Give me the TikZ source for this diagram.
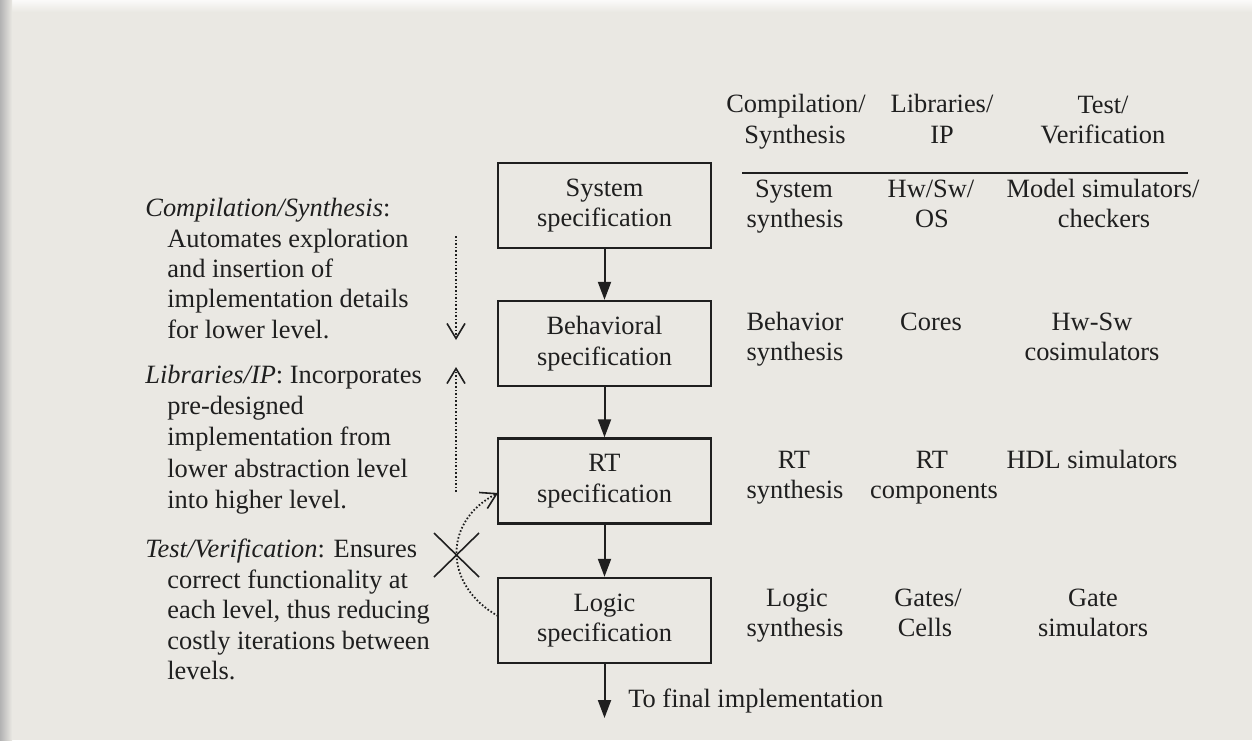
\documentclass[tikz,border=0pt]{standalone}
\usepackage{fontspec}
\setmainfont{Liberation Serif}
\usetikzlibrary{arrows.meta}
\definecolor{paper}{HTML}{EAE8E3}
\definecolor{ink}{HTML}{1F1F1F}
\newcommand\fsz{\fontsize{13.2pt}{15.2pt}\selectfont}
\tikzset{
  specbox/.style={draw=ink, line width=1.2pt, minimum width=106.5pt, minimum height=42.5pt,
    inner sep=0pt, align=center, font=\fsz, text=ink},
  ln/.style={anchor=base west, inner sep=0pt, font=\fsz, text=ink},
  cl/.style={anchor=base, inner sep=0pt, font=\fsz, text=ink},
  flow/.style={draw=ink, line width=1pt, -{Triangle[length=9pt,width=6.5pt]}},
  dotarrow/.style={draw=ink, line width=0.9pt, dash pattern=on 0.8pt off 1pt,
    -{Straight Barb[length=7.5pt,width=9pt,line width=0.8pt]}},
  cross/.style={draw=ink, line width=0.8pt}
}
\begin{document}
\begin{tikzpicture}[x=0.5pt,y=-0.5pt]
\useasboundingbox (0,0) rectangle (1252,740);
\fill[paper] (0,0) rectangle (1252,740);
\shade[top color=white!80!paper, bottom color=paper] (0,0) rectangle (1252,12);
\shade[left color=black!30, right color=paper] (0,0) rectangle (12,740);

% boxes
\node[specbox] (sys) at (604.5,205.5) {System\\specification};
\node[specbox] (beh) at (604.5,343.5) {Behavioral\\specification};
\node[specbox] (rt) at (604.5,481) {RT\\specification};
\node[specbox] (logic) at (604.5,620.5) {Logic\\specification};
\coordinate (fin) at (604.5,718);
\draw[flow] (sys) -- (beh);
\draw[flow] (beh) -- (rt);
\draw[flow] (rt) -- (logic);
\draw[flow] (logic) -- (fin);
\node[ln] (finlbl) at (628,707) {To final implementation};

% header
\node[cl] (h1a) at (796,112) {Compilation/};
\node[cl] (h1b) at (795,143) {Synthesis};
\node[cl] (h2a) at (942,112) {Libraries/};
\node[cl] (h2b) at (942,143) {IP};
\node[cl] (h3a) at (1103,113) {Test/};
\node[cl] (h3b) at (1103,143) {Verification};
\coordinate (ruleL) at (742,173);
\coordinate (ruleR) at (1188,173);
\draw[ink, line width=1.3pt] (ruleL) -- (ruleR);

% rows
\node[cl] (r1a) at (794,197) {System};
\node[cl] (r1b) at (795,227) {synthesis};
\node[cl] (r1c) at (931,197) {Hw/Sw/};
\node[cl] (r1d) at (932,227) {OS};
\node[cl] (r1e) at (1103,197) {Model simulators/};
\node[cl] (r1f) at (1104,227) {checkers};

\node[cl] (r2a) at (795,330) {Behavior};
\node[cl] (r2b) at (795,360) {synthesis};
\node[cl] (r2c) at (931,330) {Cores};
\node[cl] (r2d) at (1092,330) {Hw-Sw};
\node[cl] (r2e) at (1092,360) {cosimulators};

\node[cl] (r3a) at (794,468) {RT};
\node[cl] (r3b) at (795,498) {synthesis};
\node[cl] (r3c) at (932,468) {RT};
\node[cl] (r3d) at (934,498) {components};
\node[cl] (r3e) at (1092,468) {HDL simulators};

\node[cl] (r4a) at (797,606) {Logic};
\node[cl] (r4b) at (795,636) {synthesis};
\node[cl] (r4c) at (928,606) {Gates/};
\node[cl] (r4d) at (925,636) {Cells};
\node[cl] (r4e) at (1093,606) {Gate};
\node[cl] (r4f) at (1093,636) {simulators};

% left explanations
\node[ln] (c1) at (145,216) {\textit{Compilation/Synthesis}:};
\node[ln] (c2) at (167,247) {Automates exploration};
\node[ln] (c3) at (167,277) {and insertion of};
\node[ln] (c4) at (167,307) {implementation details};
\node[ln] (c5) at (167,338) {for lower level.};

\node[ln] (l1) at (145,383) {\textit{Libraries/IP}: Incorporates};
\node[ln] (l2) at (167,414) {pre-designed};
\node[ln] (l3) at (167,445) {implementation from};
\node[ln] (l4) at (167,477) {lower abstraction level};
\node[ln] (l5) at (167,508) {into higher level.};

\node[ln] (t1) at (145,557) {\textit{Test/Verification}: Ensures};
\node[ln] (t2) at (167,588) {correct functionality at};
\node[ln] (t3) at (167,618) {each level, thus reducing};
\node[ln] (t4) at (167,649) {costly iterations between};
\node[ln] (t5) at (167,679) {levels.};

% dotted arrows
\coordinate (ca) at (456,236);
\coordinate (cb) at (456,340);
\draw[dotarrow] (ca) -- (cb);
\coordinate (la) at (456,492);
\coordinate (lb) at (456,367);
\draw[dotarrow] (la) -- (lb);
\coordinate (ta) at (498,616);
\coordinate (tb) at (498,493);
\draw[dotarrow] (ta) .. controls (443,585) and (443,521) .. (tb);
% cross
\coordinate (x1) at (434,533);
\coordinate (x2) at (479,577);
\coordinate (x3) at (479,533);
\coordinate (x4) at (434,577);
\draw[cross] (x1) -- (x2);
\draw[cross] (x3) -- (x4);
\end{tikzpicture}
\end{document}
